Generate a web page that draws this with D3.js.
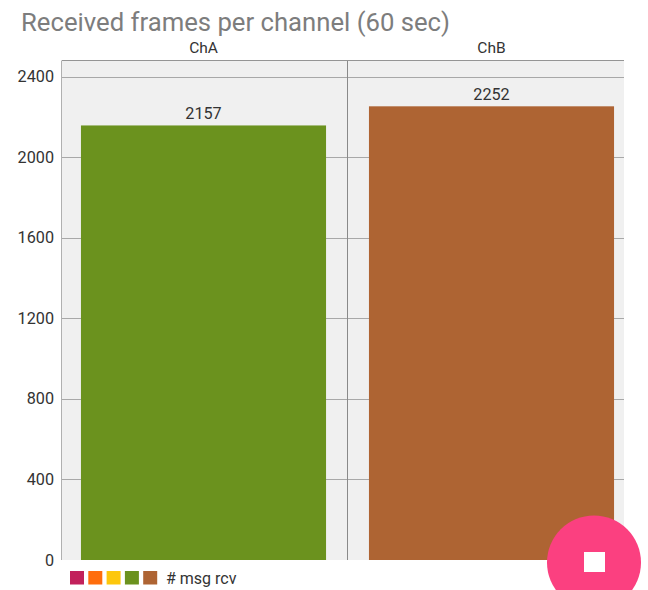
<!DOCTYPE html>
<html>
<head>
<meta charset="utf-8">
<script src="https://cdnjs.cloudflare.com/ajax/libs/d3/7.8.5/d3.min.js"></script>
<style>
  html, body { margin: 0; padding: 0; background: #fff; }
  svg { display: block; }
  text { font-family: Roboto, sans-serif; }
</style>
</head>
<body>
<div id="chart"></div>
<script>
const channels = ["ChA", "ChB"];
const received = [2157, 2252];
const yTicks = [0, 400, 800, 1200, 1600, 2000, 2400];
const barColors = ["#6b921e", "#ae6433"];
const legendColors = ["#c2215b", "#ff6d0c", "#fdc70c", "#6b921e", "#ae6433"];
const legendLabel = "# msg rcv";
const title = "Received frames per channel (60 sec)";

const width = 648, height = 590;
const plotLeft = 62, plotRight = 624, plotTop = 60.5, plotBottom = 560;

const svg = d3.select("#chart").append("svg")
    .attr("width", width)
    .attr("height", height);

// the bands run past the clipped right edge of the plot
const x = d3.scaleBand()
    .domain(channels)
    .range([59.5, 635.5])
    .paddingInner(0.149)
    .paddingOuter(0.0745);

const y = d3.scaleLinear()
    .domain([0, 2400])
    .range([plotBottom, 76.5]);

svg.append("defs").append("clipPath")
    .attr("id", "plot")
  .append("rect")
    .attr("x", plotLeft)
    .attr("y", plotTop)
    .attr("width", plotRight - plotLeft)
    .attr("height", plotBottom - plotTop);

svg.append("text")
    .attr("x", 21)
    .attr("y", 31)
    .attr("font-size", 25.7)
    .attr("fill", "#7d7d7d")
    .text(title);

const plot = svg.append("g").attr("clip-path", "url(#plot)");

plot.append("rect")
    .attr("x", plotLeft)
    .attr("y", plotTop)
    .attr("width", plotRight - plotLeft)
    .attr("height", plotBottom - plotTop)
    .attr("fill", "#f0f0f0");

// gridlines
plot.selectAll(".grid")
    .data(yTicks.filter(d => d > 0))
    .enter()
    .append("line")
    .attr("class", "grid")
    .attr("x1", plotLeft)
    .attr("x2", plotRight)
    .attr("y1", d => Math.round(y(d)) + 0.5)
    .attr("y2", d => Math.round(y(d)) + 0.5)
    .attr("stroke", "#a8a8a8")
    .attr("stroke-width", 1);

// divider between the two channels
plot.append("line")
    .attr("x1", 347.5)
    .attr("x2", 347.5)
    .attr("y1", plotTop)
    .attr("y2", plotBottom)
    .attr("stroke", "#8a8a8a");

plot.selectAll(".bar")
    .data(received)
    .enter()
    .append("rect")
    .attr("class", "bar")
    .attr("x", (d, i) => x(channels[i]))
    .attr("y", d => y(d))
    .attr("width", x.bandwidth())
    .attr("height", d => plotBottom - y(d))
    .attr("fill", (d, i) => barColors[i]);

// plot border, top and left only
svg.append("line")
    .attr("x1", plotLeft).attr("x2", plotRight)
    .attr("y1", plotTop).attr("y2", plotTop)
    .attr("stroke", "#959595");
svg.append("line")
    .attr("x1", plotLeft - 0.5).attr("x2", plotLeft - 0.5)
    .attr("y1", plotTop).attr("y2", plotBottom)
    .attr("stroke", "#b0b0b0");

svg.selectAll(".val")
    .data(received)
    .enter()
    .append("text")
    .attr("class", "val")
    .attr("x", (d, i) => x(channels[i]) + x.bandwidth() / 2)
    .attr("y", d => y(d) - 6.5)
    .attr("text-anchor", "middle")
    .attr("font-size", 16.2)
    .attr("fill", "#333")
    .text(d => d);

svg.selectAll(".chan")
    .data(channels)
    .enter()
    .append("text")
    .attr("class", "chan")
    .attr("x", d => x(d) + x.bandwidth() / 2)
    .attr("y", 53)
    .attr("text-anchor", "middle")
    .attr("font-size", 15.5)
    .attr("fill", "#333")
    .text(d => d);

svg.selectAll(".tick-label")
    .data(yTicks)
    .enter()
    .append("text")
    .attr("class", "tick-label")
    .attr("x", 54)
    .attr("y", d => y(d) + 5.5)
    .attr("text-anchor", "end")
    .attr("font-size", 16.2)
    .attr("fill", "#333")
    .text(d => d);

// legend
svg.selectAll(".swatch")
    .data(legendColors)
    .enter()
    .append("rect")
    .attr("class", "swatch")
    .attr("x", (d, i) => 70 + i * 18.3)
    .attr("y", 571)
    .attr("width", 14)
    .attr("height", 13.5)
    .attr("fill", d => d);

svg.append("text")
    .attr("x", 166)
    .attr("y", 584)
    .attr("font-size", 16)
    .attr("fill", "#333")
    .text(legendLabel);

// stop button
svg.append("circle")
    .attr("cx", 594)
    .attr("cy", 562.5)
    .attr("r", 47)
    .attr("fill", "#fb4080");
svg.append("rect")
    .attr("x", 584)
    .attr("y", 552)
    .attr("width", 21)
    .attr("height", 20)
    .attr("fill", "#fff");
</script>
</body>
</html>
